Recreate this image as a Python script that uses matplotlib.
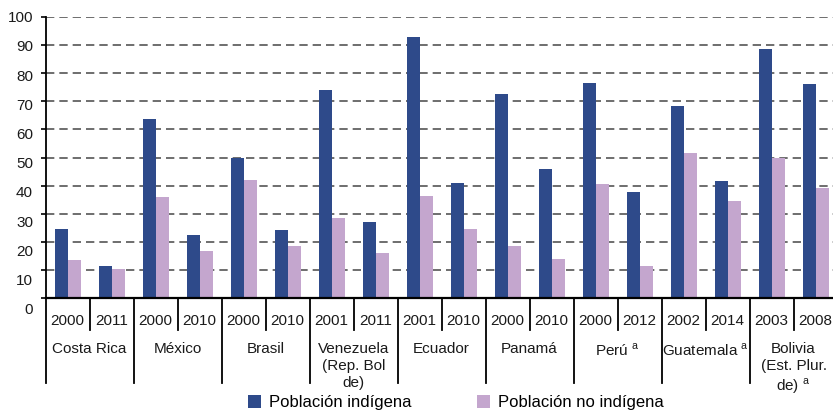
import matplotlib
matplotlib.use("Agg")
import matplotlib.pyplot as plt
from matplotlib.patches import Patch
import numpy as np

plt.rcParams['font.family'] = ['Liberation Sans', 'DejaVu Sans']
plt.rcParams['mathtext.fontset'] = 'custom'
plt.rcParams['mathtext.rm'] = 'Liberation Sans'

# data
years = ['2000', '2011', '2000', '2010', '2000', '2010', '2001', '2011', '2001',
         '2010', '2000', '2010', '2000', '2012', '2002', '2014', '2003', '2008']
countries = ['Costa Rica', 'México', 'Brasil', 'Venezuela\n(Rep. Bol\nde)',
             'Ecuador', 'Panamá', r'Perú $^{\rm a}$', r'Guatemala $^{\rm a}$',
             'Bolivia\n(Est. Plur.\n' + r'de) $^{\rm a}$']
indigena = [24.6, 11.4, 63.7, 22.5, 50.0, 24.2, 74.1, 27.2, 93.1,
            41.0, 72.7, 46.0, 76.6, 37.7, 68.4, 41.6, 88.7, 76.3]
no_indigena = [13.5, 10.3, 35.9, 16.8, 42.0, 18.6, 28.6, 16.0, 36.4,
               24.5, 18.6, 14.0, 40.7, 11.3, 51.7, 34.6, 49.7, 39.3]
yvals = list(range(0, 101, 10))

blue = '#2E4A8A'
lilac = '#C4A6CE'

fig = plt.figure(figsize=(8.33, 4.13), dpi=100)
ax = fig.add_axes([0.0547, 0.2785, 0.9508, 0.680])

n = len(years)
x = np.arange(n) + 0.5
w = 0.295
ax.bar(x - w / 2, indigena, w, color=blue, zorder=3)
ax.bar(x + w / 2, no_indigena, w, color=lilac, zorder=3)

ax.set_xlim(0, n)
ax.set_ylim(0, 100)
for v in yvals[1:]:
    ax.axhline(v, color='#555555', lw=1.2, ls=(0, (5, 3)), zorder=1)

for s in ['top', 'right']:
    ax.spines[s].set_visible(False)
ax.spines['left'].set_linewidth(1.3)
ax.spines['bottom'].set_linewidth(1.6)
ax.spines['bottom'].set_zorder(4)

ax.set_yticks(yvals)
ax.set_yticklabels([])
ax.tick_params(axis='y', direction='out', length=3.6, width=1.2, color='black')
ax.set_xticks([])

# y labels (Excel spacing is a bit wider than the gridlines)
for v in yvals:
    ax.text(-0.0159, -4.3 + v * 1.039, str(v), transform=ax.get_yaxis_transform(),
            ha='right', va='center', fontsize=11, color='#1a1a1a')

tr = ax.get_xaxis_transform()
for i in range(n + 1):
    low = -0.302 if i % 2 == 0 else -0.114
    ax.plot([i, i], [0, low], color='black', lw=1.3, transform=tr, clip_on=False)

for i, yr in enumerate(years):
    ax.text(i + 0.5, -0.081, yr, transform=tr, ha='center', va='center',
            fontsize=11, color='#1a1a1a')

for g, name in enumerate(countries):
    ax.text(2 * g + 1, -0.156, name, transform=tr, ha='center', va='top',
            fontsize=11, color='#1a1a1a', linespacing=1.27)

handles = [Patch(facecolor=blue, label='Población indígena'),
           Patch(facecolor=lilac, label='Población no indígena')]
fig.legend(handles=handles, loc='center', bbox_to_anchor=(0.547, 0.025), ncol=2,
           frameon=False, fontsize=12, handlelength=0.78, handleheight=0.78,
           handletextpad=0.48, columnspacing=3.95, borderpad=0, borderaxespad=0)

fig.savefig('out.png', dpi=100)
